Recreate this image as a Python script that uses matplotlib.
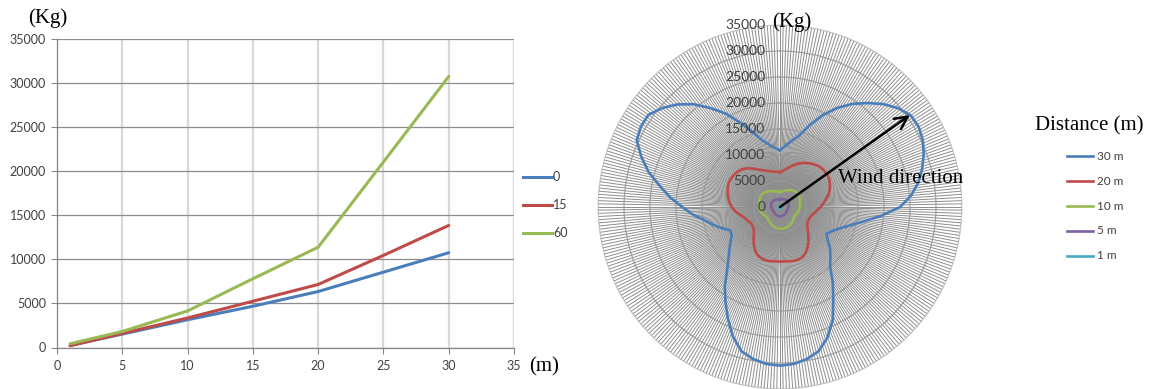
import numpy as np
import matplotlib
matplotlib.use("Agg")
import matplotlib.pyplot as plt
from matplotlib.lines import Line2D

# ---------------- data: left chart (load vs distance, for three angles) ----------------
distance_m = [1, 5, 10, 15, 20, 25, 30]
load_angle_0 = [230, 1520, 3150, 4680, 6350, 8550, 10750]
load_angle_15 = [200, 1600, 3350, 5250, 7150, 10450, 13850]
load_angle_60 = [420, 1820, 4150, 7800, 11380, 21050, 30750]
angle_labels = ["0", "15", "60"]
x_ticks = [0, 5, 10, 15, 20, 25, 30, 35]
y_ticks = [0, 5000, 10000, 15000, 20000, 25000, 30000, 35000]

# ---------------- data: right chart (load vs wind direction, degrees clockwise from top) ----------------
direction_deg = [0, 5, 10, 15, 20, 25, 30, 35, 40, 45, 50, 55,
                 60, 65, 70, 75, 80, 85, 90, 95, 100, 105, 110, 115,
                 120, 125, 130, 135, 140, 145, 150, 155, 160, 165, 170, 175,
                 180, 185, 190, 195, 200, 205, 210, 215, 220, 225, 230, 235,
                 240, 245, 250, 255, 260, 265, 270, 275, 280, 285, 290, 295,
                 300, 305, 310, 315, 320, 325, 330, 335, 340, 345, 350, 355]
load_30m = [10900, 11800, 12900, 14200, 16800, 19500, 22000, 24200, 26100, 28000, 29600, 30700,
            30800, 30300, 29400, 28300, 27000, 25300, 23100, 19500, 16200, 13800, 12100, 11000,
            10300, 11200, 12600, 13700, 15000, 17700, 20500, 24000, 26700, 28700, 29700, 30300,
            30500, 30300, 29700, 28700, 26500, 23700, 21000, 18500, 15800, 14000, 12700, 11600,
            10700, 10600, 11900, 13300, 14700, 16800, 18800, 21200, 23500, 26200, 28400, 30400,
            30900, 30900, 29600, 27900, 25800, 23200, 20700, 17800, 15300, 13300, 12200, 11400]
load_20m = [6700, 7000, 7500, 8100, 8700, 9300, 9800, 10200, 10600, 10900, 11000, 11050,
            10900, 10600, 10200, 9700, 9000, 8400, 7800, 7200, 6700, 6300, 6100, 6000,
            6100, 6400, 7000, 7700, 8500, 9300, 10000, 10500, 10700, 10700, 10600, 10500,
            10500, 10500, 10600, 10600, 10500, 10200, 9600, 8800, 7900, 7100, 6600, 6400,
            6400, 6600, 6900, 7300, 8000, 8700, 9300, 9700, 10100, 10400, 10700, 10900,
            10900, 10800, 10600, 10300, 9700, 9000, 8300, 7800, 7400, 7100, 6900, 6800]
load_10m = [2900, 3000, 3100, 3250, 3400, 3600, 3800, 3950, 4100, 4200, 4300, 4350,
            4300, 4200, 4100, 4000, 3900, 3850, 3800, 3750, 3700, 3600, 3500, 3400,
            3300, 3300, 3400, 3550, 3700, 3800, 3900, 4000, 4100, 4150, 4200, 4200,
            4200, 4150, 4100, 4000, 3900, 3750, 3600, 3500, 3400, 3300, 3200, 3200,
            3300, 3450, 3600, 3750, 3900, 3950, 4000, 4050, 4100, 4150, 4200, 4250,
            4300, 4250, 4200, 4050, 3900, 3700, 3500, 3350, 3200, 3100, 3000, 2950]
load_5m = [1500, 1520, 1550, 1580, 1600, 1650, 1700, 1730, 1750, 1780, 1800, 1800,
           1800, 1780, 1750, 1720, 1700, 1670, 1650, 1600, 1550, 1520, 1500, 1500,
           1500, 1520, 1550, 1580, 1600, 1650, 1700, 1730, 1750, 1780, 1800, 1800,
           1800, 1780, 1750, 1720, 1700, 1670, 1650, 1600, 1550, 1520, 1500, 1500,
           1500, 1520, 1550, 1580, 1600, 1650, 1700, 1730, 1750, 1780, 1800, 1800,
           1800, 1780, 1750, 1720, 1700, 1670, 1650, 1600, 1550, 1520, 1500, 1500]
load_1m = [200, 210, 220, 240, 260, 290, 320, 350, 370, 390, 400, 400,
           400, 390, 370, 350, 320, 300, 280, 260, 240, 220, 210, 200,
           200, 210, 220, 240, 260, 290, 320, 350, 370, 390, 400, 400,
           400, 390, 370, 350, 320, 300, 280, 260, 240, 220, 210, 200,
           200, 210, 220, 240, 260, 290, 320, 350, 370, 390, 400, 400,
           400, 390, 370, 350, 320, 300, 280, 260, 240, 220, 210, 200]
distance_labels = ["30 m", "20 m", "10 m", "5 m", "1 m"]
r_ticks = [0, 5000, 10000, 15000, 20000, 25000, 30000, 35000]
wind_dir_deg = 54.7
wind_len = 30600

# ---------------- styling ----------------
W, H = 1153, 389
DPI = 100
C_BLUE, C_RED, C_GREEN, C_PURPLE, C_CYAN = "#4A7EBB", "#BE4B48", "#98B954", "#7D60A0", "#46AAC5"
TXT = "#404040"
TICKFONT = ["Lato", "DejaVu Sans"]
SERIF = ["Liberation Serif", "DejaVu Serif"]

fig = plt.figure(figsize=(W / DPI, H / DPI), dpi=DPI)
fig.patch.set_facecolor("white")

def fx(px):
    return px / W

def fy(py):
    return 1 - py / H

# ---------------- left chart ----------------
axL = fig.add_axes([fx(57), fy(347.5), fx(514) - fx(57), fy(39) - fy(347.5)])
axL.set_xlim(0, 35)
axL.set_ylim(0, 35000)
axL.set_xticks(x_ticks)
axL.set_yticks(y_ticks)
axL.set_xticklabels([str(t) for t in x_ticks], fontfamily=TICKFONT, fontsize=9, color=TXT)
axL.set_yticklabels([str(t) for t in y_ticks], fontfamily=TICKFONT, fontsize=9, color=TXT)
axL.tick_params(axis="both", direction="out", length=4, width=0.8, color="#868686")
axL.tick_params(axis="x", pad=5)
axL.tick_params(axis="y", pad=4)
axL.yaxis.grid(True, color="#8c8c8c", lw=0.9)
axL.xaxis.grid(True, color="#d9d9d9", lw=1.6)
axL.set_axisbelow(True)
for s in ["top", "right"]:
    axL.spines[s].set_visible(False)
for s in ["left", "bottom"]:
    axL.spines[s].set_color("#868686")
    axL.spines[s].set_linewidth(0.9)

series_left = [(load_angle_0, C_BLUE), (load_angle_15, C_RED), (load_angle_60, C_GREEN)]
for vals, c in series_left:
    axL.plot(distance_m, vals, color=c, lw=2.2, solid_capstyle="round", solid_joinstyle="round", zorder=3)

fig.text(fx(28), fy(18), "(Kg)", fontfamily=SERIF, fontsize=15, ha="left", va="center", color="black")
fig.text(fx(529), fy(367), "(m)", fontfamily=SERIF, fontsize=15, ha="left", va="center", color="black")

# left legend
for i, ((vals, c), lab) in enumerate(zip(series_left, angle_labels)):
    y = 177 + i * 28
    fig.add_artist(Line2D([fx(523), fx(552)], [fy(y), fy(y)], color=c, lw=2.2, transform=fig.transFigure))
    fig.text(fx(553), fy(y), lab, fontfamily=TICKFONT, fontsize=9, color=TXT, ha="left", va="center")

# ---------------- right polar chart ----------------
cx, cy, R = 780, 207, 182
axP = fig.add_axes([fx(cx - R), fy(cy + R), fx(2 * R), fy(cy - R) - fy(cy + R)], projection="polar")
axP.set_theta_zero_location("N")
axP.set_theta_direction(-1)
axP.set_ylim(0, 35000)
axP.set_xticks(np.deg2rad(np.arange(0, 360, 1)))
axP.set_xticklabels([])
axP.set_yticks(r_ticks)
axP.set_yticklabels([])
axP.xaxis.grid(True, color="#8e8e8e", lw=0.7)
axP.yaxis.grid(True, color="#9a9a9a", lw=0.8)
axP.tick_params(axis="both", length=0)
axP.spines["polar"].set_color("#c8c8c8")
axP.spines["polar"].set_linewidth(0.6)
axP.set_facecolor("white")

theta = np.deg2rad(np.append(direction_deg, direction_deg[0]))
polar_series = [(load_30m, C_BLUE), (load_20m, C_RED), (load_10m, C_GREEN), (load_5m, C_PURPLE), (load_1m, C_CYAN)]
for vals, c in polar_series:
    axP.plot(theta, np.append(vals, vals[0]), color=c, lw=1.9, zorder=4,
             solid_joinstyle="round")

for v in r_ticks:
    axP.annotate(str(v), xy=(0, v), xytext=(-10.5, 0), textcoords="offset points",
                 fontfamily=TICKFONT, fontsize=10, color=TXT, ha="right", va="center", zorder=5)

axP.annotate("", xy=(np.deg2rad(wind_dir_deg), wind_len), xytext=(0, 0),
             arrowprops=dict(arrowstyle="->,head_length=0.9,head_width=0.45", lw=1.8, color="black",
                             shrinkA=0, shrinkB=0), zorder=6)

fig.text(fx(772), fy(22), "(Kg)", fontfamily=SERIF, fontsize=15, ha="left", va="center", color="black")
fig.text(fx(838), fy(178), "Wind direction", fontfamily=SERIF, fontsize=15, ha="left", va="center", color="black")
fig.text(fx(1035), fy(126), "Distance (m)", fontfamily=SERIF, fontsize=15, ha="left", va="center", color="black")

for i, ((vals, c), lab) in enumerate(zip(polar_series, distance_labels)):
    y = 156.5 + i * 24.8
    fig.add_artist(Line2D([fx(1067), fx(1093)], [fy(y), fy(y)], color=c, lw=1.9, transform=fig.transFigure))
    fig.text(fx(1097), fy(y), lab, fontfamily=TICKFONT, fontsize=8.5, color=TXT, ha="left", va="center")

fig.savefig("out.png", dpi=DPI, facecolor="white")
